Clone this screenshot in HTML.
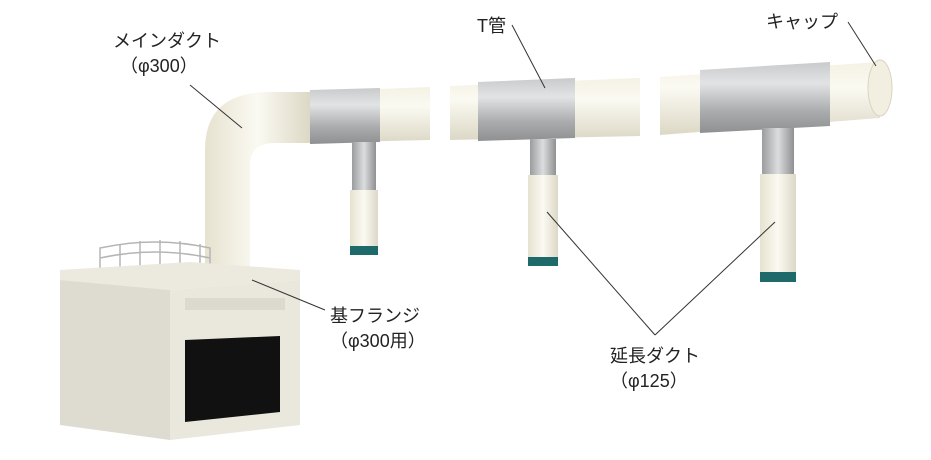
<!DOCTYPE html>
<html><head><meta charset="utf-8"><style>
html,body{margin:0;padding:0;background:#fff;width:931px;height:460px;overflow:hidden}
svg{display:block}
text{font-family:"Liberation Sans","Noto Sans CJK JP",sans-serif;fill:#222;font-size:18px}
</style></head><body>
<svg width="931" height="460" viewBox="0 0 931 460">
<defs>
<linearGradient id="wv" x1="0" y1="0" x2="0" y2="1"><stop offset="0" stop-color="#f4f1e4"/><stop offset=".35" stop-color="#fbfaf2"/><stop offset="1" stop-color="#dcd8c6"/></linearGradient>
<linearGradient id="wh" x1="0" y1="0" x2="1" y2="0"><stop offset="0" stop-color="#e6e2d0"/><stop offset=".5" stop-color="#fbfaf2"/><stop offset="1" stop-color="#dcd8c6"/></linearGradient>
<linearGradient id="sv" x1="0" y1="0" x2="0" y2="1"><stop offset="0" stop-color="#c8cacc"/><stop offset=".3" stop-color="#e2e3e4"/><stop offset=".7" stop-color="#a9abad"/><stop offset="1" stop-color="#8e9092"/></linearGradient>
<linearGradient id="sh" x1="0" y1="0" x2="1" y2="0"><stop offset="0" stop-color="#9a9c9e"/><stop offset=".5" stop-color="#dcdddf"/><stop offset="1" stop-color="#8e9092"/></linearGradient>
</defs>
<polygon points="300,92 430,87 430,140 300,143" fill="url(#wv)"/>
<polygon points="450,86 640,78 640,136 450,140" fill="url(#wv)"/>
<polygon points="660,77 880,62 880,118 660,135" fill="url(#wv)"/>
<ellipse cx="880" cy="88" rx="12" ry="28" fill="#f2efe0" stroke="#d8d4c0"/>
<path d="M205,275 L205,150 Q205,92 270,92 L310,92 L310,143 L275,143 Q250,143 250,165 L250,275 Z" fill="url(#wh)"/>
<polygon points="310,90 380,88 380,142 310,144" fill="url(#sv)"/>
<polygon points="478,82 575,78 575,138 478,141" fill="url(#sv)"/>
<polygon points="700,70 830,62 830,126 700,133" fill="url(#sv)"/>
<rect x="352" y="142" width="24" height="50" fill="url(#sh)"/>
<rect x="350" y="190" width="28" height="58" fill="url(#wh)"/>
<rect x="350" y="246" width="28" height="9" fill="#1e6a6a"/>
<rect x="530" y="139" width="26" height="38" fill="url(#sh)"/>
<rect x="528" y="175" width="30" height="84" fill="url(#wh)"/>
<rect x="528" y="257" width="30" height="9" fill="#1e6a6a"/>
<rect x="762" y="128" width="32" height="48" fill="url(#sh)"/>
<rect x="760" y="174" width="36" height="100" fill="url(#wh)"/>
<rect x="760" y="272" width="36" height="10" fill="#1e6a6a"/>
<g stroke="#b5b5b5" stroke-width="1.5" fill="none">
<path d="M100,270 L100,248 Q155,236 210,248 L210,270"/>
<path d="M100,258 Q155,246 210,258"/>
<path d="M120,244 L120,270 M140,241 L140,270 M160,240 L160,270 M180,241 L180,270 M200,244 L200,270"/>
</g>
<polygon points="60,280 170,290 300,280 300,270 190,262 60,270" fill="#ece9df"/>
<polygon points="60,280 170,290 170,440 60,425" fill="#dedbd0"/>
<polygon points="170,290 300,280 300,425 170,440" fill="#eae7dd"/>
<polygon points="185,340 280,336 280,412 185,422" fill="#111"/>
<rect x="185" y="298" width="100" height="12" fill="#dcd9ce"/>
<g stroke="#333" stroke-width="1" fill="none">
<line x1="190" y1="85" x2="242" y2="128"/>
<line x1="512" y1="25" x2="545" y2="88"/>
<line x1="848" y1="22" x2="876" y2="66"/>
<line x1="325" y1="310" x2="252" y2="280"/>
<line x1="655" y1="335" x2="547" y2="212"/>
<line x1="655" y1="335" x2="775" y2="222"/>
</g>
<text x="113" y="47">メインダクト</text>
<text x="120" y="72">（φ300）</text>
<text x="477" y="32">T管</text>
<text x="766" y="28">キャップ</text>
<text x="330" y="322">基フランジ</text>
<text x="330" y="347">（φ300用）</text>
<text x="610" y="362">延長ダクト</text>
<text x="610" y="387">（φ125）</text>
</svg>
</body></html>
